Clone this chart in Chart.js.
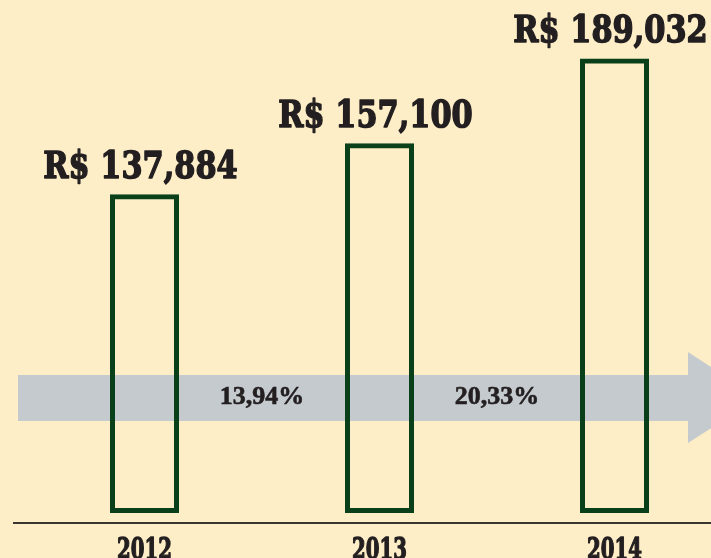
<!DOCTYPE html>
<html><head><meta charset="utf-8">
<script src="https://cdn.jsdelivr.net/npm/chart.js@4"></script>
<style>html,body{margin:0;padding:0;background:#FEEEC8;overflow:hidden}canvas{display:block}</style>
</head><body><canvas id="c" width="711" height="558"></canvas>
<script>
const years = ['2012', '2013', '2014'];
const revenue = [137884, 157100, 189032];
const growthLabels = ['13,94%', '20,33%'];
const currencyPrefix = 'R$ ';
const axisFloor = 18000;

function fmt(v) { return currencyPrefix + v.toLocaleString('en-US'); }

function drawCond(ctx, text, x, y, font, sx, weightStroke) {
  ctx.save();
  ctx.translate(x, y);
  ctx.scale(sx, 1);
  ctx.font = font;
  ctx.textAlign = 'center';
  ctx.textBaseline = 'alphabetic';
  ctx.fillStyle = '#231F20';
  ctx.strokeStyle = '#231F20';
  ctx.lineWidth = weightStroke;
  ctx.lineJoin = 'round';
  ctx.fillText(text, 0, 0);
  if (weightStroke > 0) ctx.strokeText(text, 0, 0);
  ctx.restore();
}

const decor = {
  id: 'decor',
  beforeDatasetsDraw(chart) {
    const ctx = chart.ctx;
    const xs = chart.scales.x;
    ctx.save();
    ctx.fillStyle = '#C5CACE';
    ctx.beginPath();
    ctx.moveTo(18, 375); ctx.lineTo(688, 375); ctx.lineTo(688, 352);
    ctx.lineTo(758, 398); ctx.lineTo(688, 443); ctx.lineTo(688, 421);
    ctx.lineTo(18, 421); ctx.closePath(); ctx.fill();
    ctx.strokeStyle = '#3A3631'; ctx.lineWidth = 2;
    ctx.beginPath(); ctx.moveTo(13, 523); ctx.lineTo(711, 523); ctx.stroke();
    ctx.fillStyle = '#231F20';
    ctx.strokeStyle = '#231F20'; ctx.lineWidth = 0.6;
    ctx.font = 'bold 26px "Liberation Serif"';
    ctx.textAlign = 'center'; ctx.textBaseline = 'middle';
    growthLabels.forEach((t, i) => {
      const x = (xs.getPixelForValue(i) + xs.getPixelForValue(i + 1)) / 2;
      ctx.fillText(t, x, 397);
      ctx.strokeText(t, x, 397);
    });
    ctx.restore();
  },
  afterDatasetsDraw(chart) {
    const ctx = chart.ctx;
    const meta = chart.getDatasetMeta(0);
    meta.data.forEach((el, i) => {
      drawCond(ctx, fmt(revenue[i]), el.x - 4, el.y - 16, 'bold 38px "DejaVu Serif"', 0.8, 1.6);
      drawCond(ctx, years[i], el.x, 559, 'bold 29px "DejaVu Serif"', 0.68, 1.4);
    });
  }
};

new Chart(document.getElementById('c'), {
  type: 'bar',
  data: {
    labels: years,
    datasets: [{
      data: revenue,
      base: axisFloor,
      backgroundColor: 'rgba(0,0,0,0)',
      borderColor: '#0A4019',
      borderWidth: 5,
      borderSkipped: false,
      barThickness: 69,
      inflateAmount: 0,
      clip: false
    }]
  },
  options: {
    responsive: false,
    animation: false,
    events: [],
    layout: { padding: { left: 144.5, right: 96.5, top: 0, bottom: 45 } },
    plugins: { legend: { display: false }, tooltip: { enabled: false }, title: { display: false } },
    scales: {
      x: { display: false, offset: false },
      y: { display: false, min: axisFloor, max: 211000, beginAtZero: false }
    }
  },
  plugins: [decor]
});
</script></body></html>
